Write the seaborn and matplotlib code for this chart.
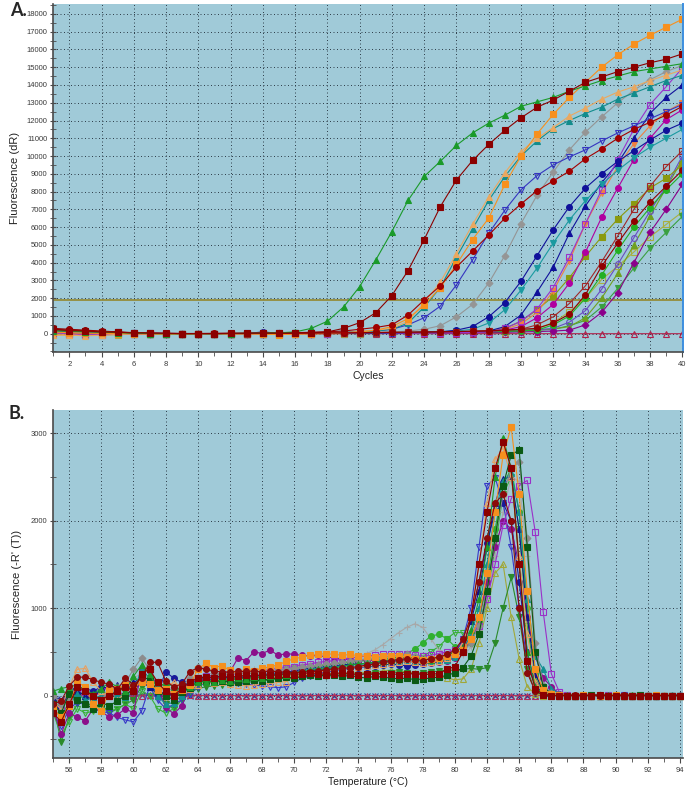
import numpy as np
import matplotlib
matplotlib.use('Agg')
import matplotlib.pyplot as plt
import seaborn as sns
from matplotlib.ticker import MultipleLocator

sns.set_style('ticks')
plt.rcParams['font.family'] = ['Liberation Sans', 'DejaVu Sans']

# ── x values ──────────────────────────
cycles = np.arange(1, 41)
temps = np.arange(55.0, 94.01, 0.5)

THRESHOLD = 1870

# ── Panel A: amplification curves (dR), cycles 1..40 ──
amp_green_tri = [180, 140, 120, 90, 60, 30, 10, 0, 0, 0,
                 0, 10, 20, 30, 50, 100, 300, 700, 1500, 2650,
                 4150, 5750, 7500, 8850, 9700, 10600, 11300, 11850, 12300, 12800,
                 13050, 13300, 13650, 13950, 14250, 14500, 14750, 14900, 15050, 15200]
amp_red_sq = [250, 180, 150, 100, 80, 50, 30, 20, 10, 10,
              10, 20, 20, 30, 30, 40, 60, 100, 300, 620,
              1180, 2150, 3550, 5300, 7150, 8650, 9750, 10650, 11450, 12150,
              12750, 13150, 13650, 14150, 14450, 14750, 15000, 15250, 15450, 15750]
amp_orange_sq = [100, 50, 30, 20, 10, 0, -20, -30, -20, -10,
                 0, -20, 0, -30, -50, -20, 0, 20, 50, 100,
                 200, 400, 850, 1600, 2600, 3900, 5300, 6500, 8400, 10000,
                 11250, 12350, 13300, 14150, 15000, 15700, 16300, 16800, 17250, 17700]
amp_tan_tri = [-100, -80, -120, -90, -40, -20, -10, 0, 0, -10,
               0, -20, -10, -20, -40, -20, 0, 20, 60, 120,
               200, 300, 700, 1750, 2900, 4500, 6150, 7700, 9050, 10250,
               11000, 11600, 12250, 12700, 13200, 13600, 13900, 14250, 14550, 14850]
amp_teal_tri = [150, 120, 100, 80, 50, 30, 10, 0, 0, 0,
                0, 0, 10, 20, 20, 30, 40, 60, 80, 110,
                150, 250, 600, 1500, 2600, 4300, 5900, 7500, 8850, 10000,
                10850, 11550, 12000, 12400, 12750, 13200, 13550, 13900, 14250, 14550]
amp_blue_vopen = [200, 150, 120, 100, 70, 40, 20, 10, 0, 0,
                  0, 10, 20, 30, 30, 40, 50, 70, 90, 120,
                  150, 250, 500, 900, 1550, 2750, 4150, 5650, 6950, 8100,
                  8900, 9500, 9950, 10350, 10850, 11300, 11700, 12100, 12500, 12900]
amp_red_circ = [250, 200, 170, 120, 90, 50, 30, 20, 10, 10,
                20, 20, 30, 40, 50, 60, 80, 110, 150, 250,
                350, 500, 1050, 1900, 2700, 3750, 4650, 5550, 6500, 7300,
                8050, 8600, 9150, 9850, 10400, 11000, 11500, 11900, 12300, 12800]
amp_gray_dia = [120, 100, 80, 60, 40, 20, 10, 0, 0, 0,
                0, 10, 10, 20, 20, 30, 30, 40, 50, 60,
                80, 100, 150, 250, 450, 950, 1650, 2850, 4400, 6200,
                7800, 9100, 10350, 11350, 12200, 13000, 13700, 14300, 14750, 15100]
amp_navy_circ = [180, 140, 110, 80, 60, 30, 20, 10, 0, 0,
                 0, 0, 10, 100, 20, 10, 20, 20, 30, 30,
                 40, 50, 60, 80, 100, 200, 400, 950, 1750, 2950,
                 4400, 5850, 7150, 8200, 9000, 9700, 10300, 10900, 11450, 11850]
amp_teal_v = [100, 80, 60, 50, 30, 20, 10, 0, 0, 0,
              0, 0, 0, 10, 10, 20, 20, 30, 30, 40,
              50, 60, 80, 100, 120, 150, 250, 600, 1350, 2450,
              3700, 5100, 6400, 7500, 8400, 9200, 9900, 10500, 11000, 11500]
amp_violet_sqopen = [50, 0, -50, -60, -30, -20, -10, 0, 0, 0,
                     0, 0, 0, 0, 0, 0, 10, 10, 20, 20,
                     30, 30, 40, 50, 50, 60, 70, 100, 300, 700,
                     1400, 2600, 4300, 6200, 8100, 9800, 11500, 12900, 13900, 14950]
amp_navy_tri = [150, 120, 100, 70, 50, 30, 10, 0, 0, 0,
                0, 0, 10, 10, 20, 20, 20, 30, 30, 40,
                40, 50, 60, 70, 80, 100, 120, 150, 400, 1050,
                2350, 3750, 5650, 7200, 8500, 9600, 11000, 12400, 13300, 14000]
amp_magenta_circ = [100, 80, 60, 40, 20, 10, 0, 0, 0, 0,
                    0, 0, 0, 0, 10, 10, 20, 20, 30, 30,
                    40, 50, 50, 60, 70, 80, 100, 120, 200, 400,
                    900, 1650, 2850, 4600, 6550, 8200, 9800, 11000, 12050, 12600]
amp_olive_sq = [80, 60, 40, 30, 20, 10, 0, 0, 0, 0,
                0, 0, 0, 0, 0, 10, 10, 20, 20, 30,
                40, 50, 60, 70, 80, 100, 130, 180, 300, 700,
                1350, 2100, 3150, 4350, 5450, 6450, 7300, 8200, 8750, 9500]
amp_orange_v = [0, -30, -40, -30, -20, -10, 0, 0, 0, 0,
                0, -20, 0, -20, -30, -20, -10, 0, 10, 20,
                30, 40, 50, 60, 80, 100, 120, 150, 250, 550,
                1200, 2400, 4100, 6200, 7900, 9400, 10700, 11700, 12500, 13000]
amp_red_sqopen = [200, 150, 120, 100, 80, 40, 20, 10, 0, 0,
                  0, 10, 10, 20, 20, 30, 30, 40, 40, 50,
                  60, 70, 80, 90, 100, 120, 140, 160, 200, 250,
                  500, 950, 1700, 2700, 4050, 5500, 7000, 8300, 9400, 10300]
amp_red_circ2 = [300, 250, 200, 150, 100, 60, 30, 20, 10, 10,
                 10, 20, 20, 30, 30, 40, 40, 50, 50, 60,
                 70, 80, 90, 100, 110, 120, 140, 160, 200, 250,
                 300, 600, 1100, 2200, 3800, 5100, 6350, 7400, 8300, 9200]
amp_green_circ = [150, 120, 90, 70, 40, 20, 10, 0, 0, 0,
                  0, 0, 10, 10, 20, 20, 30, 30, 40, 40,
                  50, 50, 60, 60, 70, 80, 90, 100, 130, 160,
                  200, 500, 1000, 2000, 3300, 4700, 6000, 7100, 8100, 9000]
amp_violet_dia = [100, 80, 60, 50, 30, 20, 10, 0, 0, 0,
                  0, 0, 0, 0, 0, 10, 10, 10, 20, 20,
                  20, 30, 30, 40, 40, 50, 60, 70, 80, 100,
                  120, 150, 200, 500, 1200, 2300, 4000, 5700, 7000, 8400]
amp_lolive_sqopen = [-50, -80, -100, -80, -50, -30, -10, 0, 0, 0,
                     0, -10, -10, -20, -20, -10, 0, 0, 10, 10,
                     20, 30, 40, 50, 60, 70, 80, 100, 120, 150,
                     300, 620, 1240, 2000, 3050, 3800, 4600, 5450, 6150, 6850]
amp_green_v = [100, 80, 60, 40, 20, 10, 0, 0, 0, 0,
               0, 0, 0, 0, 0, 0, 10, 10, 20, 20,
               30, 30, 40, 50, 60, 70, 80, 100, 120, 150,
               200, 250, 450, 750, 1500, 2550, 3700, 4800, 5700, 6600]
amp_violet_circopen = [80, 60, 40, 30, 20, 10, 0, 0, 0, 0,
                       0, 0, 0, 0, 10, 10, 10, 20, 20, 30,
                       30, 40, 40, 50, 60, 70, 80, 100, 130, 170,
                       220, 300, 650, 1300, 2500, 3900, 5400, 6900, 8300, 10000]
amp_ygreen_tri = [120, 100, 80, 60, 40, 20, 10, 0, 0, 0,
                  0, 0, 10, 10, 20, 20, 30, 30, 40, 40,
                  50, 50, 60, 70, 80, 90, 100, 120, 150, 200,
                  220, 260, 400, 900, 2000, 3400, 5000, 6600, 8200, 9800]
amp_ntc = [60, 30, 20, 10, 0, 0, 0, 0, 0, 0,
           0, 0, 0, 0, 0, 0, 0, 0, 0, 0,
           0, 0, 0, 0, 0, 0, 0, 0, 0, 0,
           0, 0, 0, 0, 0, 0, 0, 0, 0, 0]

# ── Panel B: melt curves -R'(T), 55..94 °C in 0.5 steps ──
melt_orange_sq = [-150, -250, -120, 150, 100, -100, -180, 60, 80, 120,
                  100, 150, 130, 60, 80, 20, 60, 120, 300, 370,
                  320, 340, 290, 250, 300, 280, 310, 330, 350, 390,
                  420, 440, 460, 470, 480, 470, 460, 470, 455, 450,
                  440, 450, 455, 450, 440, 420, 410, 415, 430, 450,
                  480, 520, 650, 900, 1400, 2100, 2750, 3070, 2300, 1200,
                  300, 60, 20, 10, 0, 0, 10, 0, 0, 0,
                  10, 0, 0, 0, 0, 10, 0, 0, 0]
melt_green_tri = [50, 80, 100, 120, 60, 20, 80, 150, 100, 50,
                  220, 350, 250, 80, 150, 100, 60, 100, 150, 160,
                  150, 180, 170, 200, 190, 210, 200, 220, 230, 240,
                  260, 270, 290, 300, 310, 320, 330, 350, 360, 370,
                  380, 400, 410, 420, 440, 430, 420, 410, 430, 460,
                  500, 560, 750, 1100, 1700, 2500, 2950, 2600, 1500, 500,
                  100, 20, 10, 0, 10, 0, 0, 0, 0, 10,
                  0, 0, 10, 0, 0, 0, 0, 0, 0]
melt_dgreen_sq = [-100, -200, 20, -50, -100, -150, -80, -120, -60, 0,
                  80, 220, 180, 50, 0, -50, 40, 90, 150, 170,
                  160, 170, 150, 160, 170, 180, 170, 190, 200, 210,
                  200, 220, 230, 220, 240, 230, 220, 230, 210, 200,
                  220, 210, 200, 190, 200, 180, 190, 200, 210, 230,
                  260, 320, 450, 700, 1200, 1800, 2400, 2750, 2810, 1700,
                  500, 100, 20, 10, 0, 0, 0, 10, 0, 0,
                  0, 0, 0, 10, 0, 0, 0, 0, 0]
melt_gray_dia = [0, -100, -50, 100, 50, 0, -50, 50, 100, 150,
                 300, 430, 300, 150, 100, 50, 100, 200, 330, 300,
                 260, 250, 240, 260, 250, 270, 260, 280, 290, 300,
                 320, 330, 340, 350, 360, 370, 380, 400, 410, 420,
                 430, 440, 450, 460, 470, 450, 430, 420, 430, 450,
                 470, 500, 600, 800, 1200, 1800, 2300, 2600, 2670, 1800,
                 600, 120, 30, 10, 0, 0, 0, 0, 10, 0,
                 0, 0, 0, 0, 10, 0, 0, 0, 0]
melt_tan_triopen = [-80, -150, 100, 300, 310, 150, 50, 0, -50, 30,
                    100, 200, 150, 50, 100, 150, 100, 80, 120, 150,
                    140, 150, 130, 120, 110, 120, 130, 140, 150, 160,
                    200, 230, 250, 270, 280, 300, 310, 320, 330, 340,
                    350, 360, 370, 380, 390, 380, 370, 380, 400, 430,
                    480, 600, 900, 1500, 2200, 2700, 2830, 2500, 1600, 700,
                    150, 40, 10, 0, 0, 10, 0, 0, 0, 0,
                    0, 0, 0, 0, 0, 0, 10, 0, 0]
melt_teal_tri = [-150, -250, -100, 20, -50, -30, 0, 50, 20, -20,
                 50, 300, 200, 0, -100, -80, 0, 100, 180, 220,
                 200, 190, 200, 210, 220, 230, 220, 240, 250, 260,
                 270, 280, 300, 310, 320, 330, 340, 350, 360, 360,
                 370, 380, 390, 400, 410, 400, 390, 380, 390, 410,
                 440, 520, 700, 1000, 1500, 2100, 2450, 2550, 2100, 1100,
                 450, 300, 80, 20, 0, 0, 0, 10, 0, 0,
                 0, 0, 0, 0, 0, 0, 0, 10, 0]
melt_navy_tri = [-50, -200, 80, 50, 0, -50, 100, 80, 120, 50,
                 150, 200, 100, 50, 20, 0, 50, 120, 180, 200,
                 210, 220, 200, 210, 230, 220, 240, 250, 260, 270,
                 280, 300, 310, 320, 330, 340, 350, 360, 360, 370,
                 380, 390, 400, 410, 420, 410, 400, 420, 440, 460,
                 500, 600, 850, 1200, 1700, 2200, 2480, 2500, 1900, 900,
                 250, 50, 10, 0, 0, 0, 10, 0, 0, 0,
                 0, 0, 0, 0, 0, 0, 0, 0, 10]
melt_violet_sqopen = [-100, -150, 0, 80, 40, -20, 50, 100, 50, 0,
                      100, 200, 150, 50, 0, 50, 80, 150, 200, 220,
                      200, 230, 240, 250, 260, 270, 280, 300, 310, 320,
                      330, 350, 360, 380, 390, 400, 420, 430, 440, 450,
                      460, 470, 480, 480, 470, 460, 450, 460, 480, 500,
                      520, 560, 650, 800, 1100, 1500, 1950, 2250, 2400, 2460,
                      1870, 950, 250, 40, 10, 0, 0, 0, 0, 10,
                      0, 0, 0, 0, 0, 0, 0, 0, 0]
melt_purple_circ = [-150, -440, -200, -250, -290, -150, -180, -250, -220, -150,
                    -200, 300, 280, 100, -130, -210, -120, 90, 150, 200,
                    240, 260, 270, 430, 400, 500, 480, 520, 460, 480,
                    470, 460, 450, 460, 440, 430, 420, 410, 400, 410,
                    400, 390, 380, 390, 400, 390, 380, 370, 380, 400,
                    430, 500, 650, 900, 1300, 1700, 2000, 1900, 1500, 900,
                    450, 200, 100, 20, 0, 0, 0, 0, 0, 0,
                    0, 0, 0, 0, 0, 10, 0, 0, 0]
melt_navy_circ = [-50, -100, 50, 100, 80, 50, 100, 80, 60, 100,
                  50, 150, 100, 20, 270, 200, 150, 120, 150, 180,
                  190, 200, 210, 200, 210, 220, 230, 230, 240, 250,
                  260, 270, 280, 290, 300, 310, 300, 310, 320, 330,
                  340, 350, 360, 350, 340, 350, 360, 380, 400, 430,
                  480, 600, 900, 1300, 1750, 2100, 2200, 2000, 1300, 500,
                  120, 20, 0, 0, 10, 0, 0, 0, 0, 0,
                  0, 0, 0, 0, 0, 0, 0, 0, 0]
melt_blue_vopen = [-200, -350, -150, -80, -100, -150, -180, -200, -250, -280,
                   -300, -180, 100, -50, -150, -100, -50, 20, 100, 150,
                   160, 170, 150, 140, 130, 120, 110, 100, 90, 100,
                   150, 200, 220, 250, 270, 280, 300, 320, 330, 340,
                   350, 360, 370, 380, 390, 380, 370, 380, 400, 430,
                   480, 650, 1000, 1700, 2400, 2490, 2200, 1700, 1000, 400,
                   100, 20, 0, 0, 0, 0, 0, 0, 0, 0,
                   0, 10, 0, 0, 0, 0, 0, 0, 0]
melt_green_v = [-100, -530, -250, -100, -50, -150, -100, -200, -150, -100,
                -50, 100, 200, 50, -100, -150, -50, 30, 80, 100,
                110, 120, 130, 140, 150, 160, 170, 180, 190, 200,
                200, 210, 220, 230, 220, 230, 240, 250, 240, 250,
                260, 250, 260, 270, 260, 250, 260, 270, 280, 290,
                290, 300, 310, 300, 320, 600, 1000, 1350, 900, 300,
                40, 10, 0, 0, 0, 0, 0, 0, 0, 0,
                0, 0, 0, 0, 0, 0, 0, 0, 0]
melt_olive_triopen = [-50, -150, 50, 100, 30, -30, 0, 50, 30, 0,
                      80, 150, 100, 0, -50, -20, 50, 100, 150, 180,
                      170, 180, 190, 200, 190, 200, 210, 200, 210, 220,
                      230, 220, 230, 240, 250, 260, 250, 260, 270, 260,
                      270, 280, 290, 280, 270, 260, 250, 240, 220, 200,
                      180, 190, 300, 600, 1000, 1400, 1500, 900, 420, 100,
                      20, 0, 0, 0, 0, 0, 0, 0, 0, 0,
                      0, 0, 0, 0, 0, 0, 0, 0, 0]
melt_gray_cross = [0, -100, 0, 80, 40, 0, -30, 30, 80, 100,
                   200, 250, 200, 100, 50, 80, 120, 180, 220, 250,
                   250, 260, 270, 280, 290, 300, 310, 320, 330, 340,
                   350, 360, 370, 380, 390, 400, 410, 420, 450, 480,
                   520, 580, 650, 720, 780, 820, 780, 650, 520, 450,
                   430, 460, 550, 750, 1100, 1600, 2100, 2500, 2450, 1600,
                   500, 100, 20, 0, 0, 0, 0, 0, 0, 0,
                   0, 0, 0, 0, 0, 0, 0, 0, 0]
melt_green_circ = [-50, -200, -100, 0, 50, 0, -50, 0, 50, 80,
                   100, 200, 150, 50, 0, 50, 100, 150, 200, 220,
                   230, 240, 250, 260, 250, 260, 270, 280, 290, 300,
                   310, 320, 330, 340, 350, 360, 370, 380, 390, 400,
                   410, 420, 430, 440, 480, 530, 600, 680, 700, 650,
                   560, 520, 600, 850, 1300, 1900, 2400, 2600, 2100, 1000,
                   250, 40, 10, 0, 0, 0, 0, 0, 0, 0,
                   0, 0, 0, 0, 0, 0, 0, 0, 0]
melt_lgreen_vopen = [-200, -450, -300, -150, -200, -180, -150, -180, -150, -100,
                     -150, 50, 0, -150, -200, -150, -50, 50, 120, 150,
                     160, 170, 180, 190, 200, 210, 220, 230, 240, 250,
                     260, 270, 280, 290, 300, 310, 320, 330, 340, 350,
                     360, 370, 380, 390, 400, 420, 450, 500, 560, 650,
                     720, 720, 600, 700, 1100, 1700, 2300, 2500, 1900, 800,
                     200, 30, 10, 0, 0, 0, 0, 0, 0, 0,
                     0, 0, 0, 0, 0, 0, 0, 0, 0]
melt_red_circ = [-100, -60, 110, 210, 210, 180, 150, 130, 70, 200,
                 120, 200, 380, 380, 170, 100, 130, 270, 320, 300,
                 280, 270, 270, 275, 275, 280, 270, 280, 270, 270,
                 260, 270, 270, 280, 290, 300, 310, 320, 330, 350,
                 360, 380, 400, 410, 420, 410, 400, 420, 440, 470,
                 520, 650, 900, 1300, 1800, 2200, 2300, 2000, 1000, 260,
                 50, 10, 0, 0, 0, 10, 0, 0, 0, 0,
                 0, 10, 0, 0, 0, 0, 0, 0, 0]
melt_red_sq = [-200, -300, -100, 100, 50, 0, -50, 0, 50, 100,
               50, 250, 300, 150, 50, 0, 80, 150, 200, 210,
               200, 220, 210, 220, 230, 220, 240, 230, 240, 250,
               240, 250, 260, 250, 240, 250, 260, 250, 240, 250,
               240, 250, 250, 240, 245, 250, 240, 245, 250, 300,
               330, 500, 900, 1500, 2100, 2600, 2900, 2600, 1500, 400,
               80, 10, 0, 0, 0, 0, 0, 0, 10, 0,
               0, 0, 0, 0, 0, 0, 0, 0, 0]
melt_ntc_tri = [-40, -60, -20, 0, 10, -10, -20, 0, 10, 0,
                -10, 0, 10, 0, -10, 0, 0, 10, 0, 0,
                0, 0, 0, 0, 0, 0, 0, 0, 0, 0,
                0, 0, 0, 0, 0, 0, 0, 0, 0, 0,
                0, 0, 0, 0, 0, 0, 0, 0, 0, 0,
                0, 0, 0, 0, 0, 0, 0, 0, 0, 0,
                0, 0, 0, 0, 0, 0, 0, 0, 0, 0,
                0, 0, 0, 0, 0, 0, 0, 0, 0]
melt_ntc_x = [-20, -40, -10, 10, 0, -20, -10, 10, 0, -10,
              0, 10, 0, -10, 0, 10, 0, 0, 0, 0,
              0, 0, 0, 0, 0, 0, 0, 0, 0, 0,
              0, 0, 0, 0, 0, 0, 0, 0, 0, 0,
              0, 0, 0, 0, 0, 0, 0, 0, 0, 0,
              0, 0, 0, 0, 0, 0, 0, 0, 0, 0,
              0, 0, 0, 0, 0, 0, 0, 0, 0, 0,
              0, 0, 0, 0, 0, 0, 0, 0, 0]

# ── Styles (data, colour, marker, hollow) ──
amp_series = [
    (amp_ntc, '#b0204a', '^', True),
    (amp_lolive_sqopen, '#a8b040', 's', True),
    (amp_green_v, '#3aa040', 'v', False),
    (amp_ygreen_tri, '#70a020', '^', False),
    (amp_violet_circopen, '#6a4cc0', 'o', True),
    (amp_violet_dia, '#8b008b', 'D', False),
    (amp_green_circ, '#22b022', 'o', False),
    (amp_olive_sq, '#8a9a10', 's', False),
    (amp_orange_v, '#f08040', 'v', False),
    (amp_magenta_circ, '#b000a0', 'o', False),
    (amp_navy_tri, '#10109a', '^', False),
    (amp_violet_sqopen, '#9932cc', 's', True),
    (amp_teal_v, '#1a9aa0', 'v', False),
    (amp_navy_circ, '#10109a', 'o', False),
    (amp_gray_dia, '#959595', 'D', False),
    (amp_blue_vopen, '#3535c0', 'v', True),
    (amp_teal_tri, '#128c8c', '^', False),
    (amp_tan_tri, '#eaa860', '^', False),
    (amp_orange_sq, '#f7901e', 's', False),
    (amp_red_sqopen, '#a02828', 's', True),
    (amp_red_circ2, '#900000', 'o', False),
    (amp_red_circ, '#a00000', 'o', False),
    (amp_green_tri, '#1a9a2a', '^', False),
    (amp_red_sq, '#8b0000', 's', False),
]

melt_series = [
    (melt_ntc_x, '#303090', 'x', False),
    (melt_ntc_tri, '#b0305a', '^', True),
    (melt_olive_triopen, '#a0a838', '^', True),
    (melt_green_v, '#2a8a2a', 'v', False),
    (melt_lgreen_vopen, '#38b038', 'v', True),
    (melt_gray_cross, '#a8a8a8', '+', False),
    (melt_green_circ, '#30b030', 'o', False),
    (melt_blue_vopen, '#3838c8', 'v', True),
    (melt_navy_circ, '#1a1a9a', 'o', False),
    (melt_purple_circ, '#8b108b', 'o', False),
    (melt_violet_sqopen, '#9a30c8', 's', True),
    (melt_navy_tri, '#12128a', '^', False),
    (melt_teal_tri, '#139090', '^', False),
    (melt_tan_triopen, '#e8a060', '^', True),
    (melt_gray_dia, '#8c8c8c', 'D', False),
    (melt_dgreen_sq, '#0a5a14', 's', False),
    (melt_green_tri, '#1f9a2a', '^', False),
    (melt_orange_sq, '#f5901e', 's', False),
    (melt_red_circ, '#8b0a0a', 'o', False),
    (melt_red_sq, '#8b0000', 's', False),
]

BG = '#a0cad8'
GRID = dict(color='#2c3c48', linestyle=(0, (1, 2.6)), linewidth=0.7)


def draw_curves(ax, x, series):
    for vals, color, marker, hollow in series:
        sns.lineplot(x=x, y=vals, ax=ax, color=color, marker=marker,
                     markersize=4.2 if marker not in ('D',) else 3.5,
                     markerfacecolor='none' if hollow else color,
                     markeredgecolor=color, markeredgewidth=0.8,
                     linewidth=0.8, errorbar=None, sort=False)


def style_axes(ax, right_color=None):
    ax.set_facecolor(BG)
    ax.grid(True, which='major', **GRID)
    ax.set_axisbelow(True)
    for side in ('left', 'bottom'):
        ax.spines[side].set_color('#4a4a4a')
        ax.spines[side].set_linewidth(1.2)
    ax.spines['top'].set_visible(False)
    if right_color:
        ax.spines['right'].set_visible(True)
        ax.spines['right'].set_color(right_color)
        ax.spines['right'].set_linewidth(1.4)
    else:
        ax.spines['right'].set_visible(False)
    ax.tick_params(axis='both', which='both', labelsize=5.5,
                   labelcolor='#3a3a3a', color='#4a4a4a')
    ax.tick_params(axis='x', which='major', direction='out', length=3.5, pad=3)
    ax.tick_params(axis='x', which='minor', direction='out', length=3)
    ax.tick_params(axis='y', which='major', direction='inout', length=5, pad=1.5)
    ax.tick_params(axis='y', which='minor', direction='inout', length=4)


fig = plt.figure(figsize=(6.9, 7.92), dpi=100)
fig.patch.set_facecolor('white')

# ── Panel A ───────────────────────────
axA = fig.add_axes([0.077, 0.556, 0.913, 0.439])
draw_curves(axA, cycles, amp_series)
axA.axhline(THRESHOLD, color='#948c3a', linewidth=1.3, zorder=1.5)
axA.set_xlim(1, 40.05)
axA.set_ylim(-1010, 18560)
axA.xaxis.set_major_locator(MultipleLocator(2))
axA.xaxis.set_minor_locator(MultipleLocator(1))
axA.set_yticks(np.arange(0, 18001, 1000))
axA.yaxis.set_minor_locator(MultipleLocator(500))
style_axes(axA, right_color='#3d8fe0')
axA.set_xlabel('Cycles', fontsize=7.5, color='#222222')
axA.set_ylabel('Fluorescence (dR)', fontsize=8, color='#222222')
axA.xaxis.set_label_coords(0.5, -0.056)
axA.yaxis.set_label_coords(-0.052, 0.5)

# ── Panel B ───────────────────────────
axB = fig.add_axes([0.077, 0.043, 0.913, 0.439])
draw_curves(axB, temps, melt_series)
axB.set_xlim(55, 94.2)
axB.set_ylim(-714, 3263)
axB.xaxis.set_major_locator(MultipleLocator(2))
axB.xaxis.set_minor_locator(MultipleLocator(1))
axB.set_yticks([0, 1000, 2000, 3000])
axB.yaxis.set_minor_locator(MultipleLocator(500))
style_axes(axB)
axB.set_xlabel('Temperature (°C)', fontsize=7.5, color='#222222')
axB.set_ylabel("Fluorescence (-R' (T))", fontsize=8, color='#222222')
axB.xaxis.set_label_coords(0.5, -0.056)
axB.yaxis.set_label_coords(-0.05, 0.5)

# ── Panel letters ─────────────────────
fig.text(10 / 690, 1 - 11 / 792, 'A.', fontsize=13, fontweight='bold',
         va='center', ha='left', family=['Lato', 'DejaVu Sans'])
fig.text(8 / 690, 1 - 413 / 792, 'B.', fontsize=13, fontweight='bold',
         va='center', ha='left', family=['Lato', 'DejaVu Sans'])

fig.savefig('out.png', dpi=100, facecolor='white')
